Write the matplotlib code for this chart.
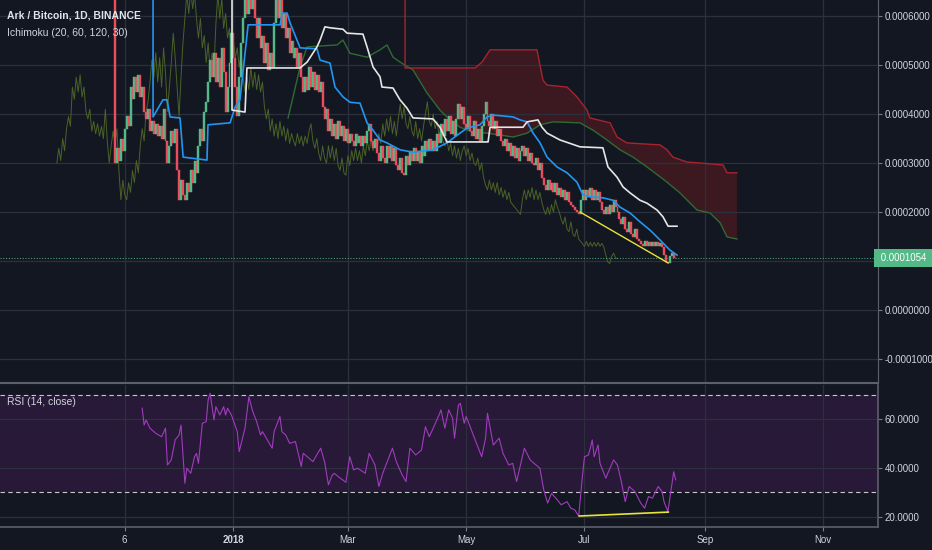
import numpy as np
import pandas as pd
import matplotlib
matplotlib.use('Agg')
import matplotlib.pyplot as plt

# prices in units of 1e-4 BTC, one candle per day starting 2017-11-01
start = pd.Timestamp('2017-11-01')
first_open = 6.9
closes = [
    3.0, 3.3, 3.05, 3.5, 3.25, 3.7, 3.95, 3.75, 4.55, 4.3,
    4.75, 4.45, 4.8, 4.35, 4.55, 4.05, 3.9, 4.1, 3.65, 3.85,
    3.6, 3.8, 3.55, 3.75, 3.5, 4.1, 3.45, 3.0, 3.35, 3.65,
    3.4, 3.7, 2.85, 2.25, 2.65, 2.35, 2.25, 2.6, 2.4, 2.85,
    2.6, 3.05, 2.8, 3.35, 3.7, 3.45, 4.05, 4.25, 4.65, 5.1,
    4.75, 5.25, 4.65, 5.15, 4.55, 5.35, 4.85, 4.05, 4.55, 5.05,
    5.65, 5.15, 4.55, 3.95, 4.75, 5.45, 5.95, 6.45, 6.05, 6.55,
    6.15, 6.45, 5.95, 5.55, 5.95, 5.35, 5.6, 5.05, 5.45, 4.9,
    5.25, 4.95, 5.85, 6.45, 5.95, 6.35, 5.75, 6.05, 5.55, 5.75,
    5.25, 5.5, 5.15, 5.35, 4.95, 5.25, 4.75, 4.45, 4.75, 4.5,
    4.95, 4.55, 4.85, 4.5, 4.8, 4.45, 4.65, 4.15, 3.9, 4.1,
    3.65, 3.9, 3.55, 3.8, 3.5, 3.85, 3.55, 3.75, 3.45, 3.7,
    3.4, 3.6, 3.45, 3.35, 3.6, 3.4, 3.55, 3.35, 3.55, 3.4,
    3.65, 3.8, 3.45, 3.3, 3.5, 3.2, 3.05, 3.35, 3.1, 3.0,
    3.35, 3.1, 3.35, 3.05, 3.3, 2.95, 2.85, 3.1, 2.8, 2.75,
    3.15, 2.95, 3.25, 3.05, 3.3, 3.05, 3.25, 3.0, 3.35, 3.15,
    3.45, 3.25, 3.5, 3.25, 3.45, 3.25, 3.6, 3.4, 3.8, 3.55,
    3.9, 3.65, 3.95, 3.6, 3.85, 3.55, 3.9, 4.2, 3.9, 4.15,
    3.8, 3.7, 3.95, 3.65, 3.55, 3.85, 3.5, 3.7, 3.45, 3.75,
    4.0, 4.25, 3.85, 3.75, 4.0, 3.7, 3.85, 3.55, 3.7, 3.45,
    3.35, 3.5, 3.25, 3.4, 3.15, 3.35, 3.1, 3.3, 3.05, 3.25,
    3.35, 3.15, 3.3, 3.05, 3.2, 3.0, 2.95, 3.1, 2.85, 3.0,
    2.7, 2.55, 2.45, 2.65, 2.45, 2.6, 2.4, 2.6, 2.35, 2.5,
    2.3, 2.45, 2.25, 2.4, 2.2, 2.15, 2.1, 2.05, 2.0, 1.95,
    2.25, 2.45, 2.25, 2.45, 2.3, 2.5, 2.25, 2.45, 2.25, 2.4,
    2.2, 2.05, 1.95, 2.1, 1.95, 2.15, 2.0, 2.25, 2.1, 2.0,
    1.85, 1.75, 1.9, 1.65, 1.6, 1.8, 1.55, 1.5, 1.65, 1.45,
    1.4, 1.35, 1.3, 1.4, 1.3, 1.38, 1.3, 1.38, 1.3, 1.38,
    1.3, 1.36, 1.28, 1.12, 0.98, 0.95, 1.1, 1.16, 1.06, 1.054,
]
last_price = 1.054
lag_shift = 30

# Ichimoku lines as (day, price) vertices
conv_days = [19.6, 19.6, 24.7, 26.8, 28.4, 33.5, 35.1, 47.4, 47.9, 59.3, 61.9, 64.4, 68.6, 85.1, 86.1,
             88.7, 90.2, 95.4, 104.1, 105.7, 110.8, 113.4, 117.5, 121.1, 126.3, 129.9, 133.0, 136.6,
             140.2, 146.9, 153.6, 163.9, 171.1, 177.8, 181.4, 188.1, 191.8, 194.8, 205.2, 208.8, 212.4,
             215.5, 219.1, 222.7, 227.8, 233.0, 238.1, 241.2, 244.8, 251.5, 256.7, 260.3, 265.5, 270.6,
             275.8, 280.9, 286.1, 289.7]
conv_vals = [8.0, 3.94, 4.29, 4.29, 3.94, 3.92, 3.12, 3.06, 3.78, 3.82, 4.14, 4.29, 5.82, 5.82, 6.06,
             6.06, 5.86, 5.35, 5.33, 5.10, 5.04, 4.55, 4.35, 4.24, 4.22, 3.82, 3.67, 3.47,
             3.41, 3.27, 3.22, 3.27, 3.41, 3.61, 3.71, 3.78, 3.94, 3.98, 3.94, 3.88, 3.84,
             3.61, 3.41, 3.12, 2.92, 2.80, 2.61, 2.35, 2.31, 2.29, 2.24, 2.10, 1.98, 1.80,
             1.63, 1.43, 1.22, 1.12]

base_days = [60.3, 60.3, 67.0, 68.0, 95.4, 99.0, 104.1, 105.7, 108.2, 110.8, 117.5, 119.6, 127.8, 129.9,
             133.0, 136.6, 137.6, 143.3, 146.9, 150.5, 153.6, 163.9, 167.5, 171.1, 192.3, 193.3, 210.3,
             212.4, 218.0, 220.1, 222.7, 229.4, 239.7, 251.5, 254.1, 258.8, 261.9, 265.5, 270.6, 274.2,
             279.4, 282.5, 285.1, 289.7]
base_vals = [8.0, 4.08, 4.04, 4.94, 4.94, 5.06, 5.37, 5.51, 5.78, 5.76, 5.73, 5.65, 5.63, 5.37,
             4.96, 4.76, 4.55, 4.53, 4.29, 4.12, 3.92, 3.90, 3.73, 3.43, 3.43, 3.73, 3.73,
             3.84, 3.88, 3.73, 3.61, 3.47, 3.33, 3.31, 2.92, 2.71, 2.51, 2.39, 2.24, 2.18,
             2.04, 1.90, 1.71, 1.71]

span_a_days = [89.2, 95.4, 99.0, 114.4, 117.5, 121.1, 129.9, 136.6, 140.2, 143.3, 146.9, 153.6, 160.8,
               167.5, 171.1, 177.8, 184.5, 191.8, 198.5, 205.2, 212.4, 219.1, 225.8, 239.7, 246.4,
               253.6, 260.3, 267.0, 274.2, 284.5, 291.2, 300.0, 306.7, 311.9, 315.5, 320.6]
span_a_vals = [3.92, 4.96, 5.37, 5.41, 5.51, 5.24, 5.16, 5.31, 5.41, 5.16, 5.06, 4.90, 4.43,
               4.08, 3.94, 3.73, 3.63, 3.61, 3.57, 3.53, 3.61, 3.78, 3.84, 3.82, 3.67,
               3.47, 3.27, 3.12, 2.92, 2.61, 2.39, 2.04, 1.98, 1.78, 1.49, 1.45]

span_b_days = [149.5, 149.5, 185.6, 189.2, 193.3, 217.5, 220.6, 222.7, 233.0, 238.1, 243.3, 244.8, 255.2,
               258.8, 263.9, 280.9, 284.5, 287.6, 294.8, 301.5, 313.4, 315.5, 320.6]
span_b_vals = [8.0, 4.94, 4.94, 5.06, 5.31, 5.31, 4.69, 4.59, 4.55, 4.35, 4.08, 3.92, 3.82,
               3.53, 3.41, 3.37, 3.27, 3.12, 3.02, 3.00, 2.96, 2.80, 2.80]

trend_days = [239.7, 285.1]
trend_vals = [2.0, 0.96]

# RSI (14, close)
rsi_days = [14, 15, 16, 18, 21, 24, 26, 27, 29, 31, 33, 34, 36, 37, 39, 41, 42, 43, 45, 47,
            48, 49, 51, 52, 54, 56, 57, 58, 60, 63, 64, 67, 69, 71, 73, 75, 76, 78, 81, 82,
            85, 86, 88, 90, 93, 94, 96, 97, 100, 102, 106, 108, 110, 112, 113, 115, 119, 121, 123, 125,
            129, 131, 134, 136, 138, 140, 143, 145, 148, 150, 152, 155, 158, 160, 162, 164, 167, 168, 170, 172,
            174, 175, 177, 178, 180, 181, 184, 186, 189, 191, 192, 195, 198, 200, 203, 205, 207, 210, 211, 214,
            216, 219, 221, 223, 225, 228, 230, 233, 235, 237, 239, 241, 242, 244, 245, 246, 247, 249, 250, 253,
            254, 257, 259, 261, 263, 265, 268, 271, 273, 275, 277, 280, 282, 283, 285, 288, 289]
rsi_vals = [64.4, 57.5, 59.6, 56.2, 54.1, 52.7, 56.2, 41.1, 43.2, 51.4,
            53.4, 57.5, 33.6, 39.8, 37.7, 44.5, 45.9, 41.8, 58.2, 58.9,
            67.8, 70.5, 59.6, 65.0, 61.6, 65.0, 61.6, 64.4, 61.6, 54.8,
            46.6, 56.2, 69.1, 63.0, 58.9, 53.4, 54.8, 52.1, 48.0, 54.8,
            61.0, 54.8, 53.4, 50.0, 50.7, 47.3, 40.5, 45.9, 43.9, 42.5,
            48.0, 42.5, 33.0, 37.0, 37.7, 36.4, 34.0, 44.5, 39.1, 39.8,
            37.7, 45.9, 41.1, 32.3, 37.7, 41.8, 48.0, 42.5, 37.0, 34.3,
            48.0, 45.2, 47.3, 56.8, 52.7, 56.2, 61.6, 63.7, 56.2, 63.7,
            60.3, 52.1, 65.7, 66.4, 58.2, 61.0, 54.8, 50.7, 44.5, 52.1,
            62.3, 49.3, 52.1, 45.9, 41.1, 41.8, 34.3, 44.5, 48.0, 43.2,
            41.8, 39.8, 30.9, 25.5, 29.5, 26.8, 24.8, 26.1, 23.4, 22.7,
            20.2, 37.0, 44.5, 45.2, 48.0, 51.4, 44.5, 49.3, 41.8, 35.7,
            37.7, 43.2, 41.1, 34.3, 26.1, 32.3, 30.2, 25.5, 23.4, 28.2,
            27.5, 32.3, 30.2, 26.1, 22.0, 38.4, 35.0]
rsi_trend_days = [239.3, 285.2]
rsi_trend_vals = [20.2, 21.8]

date_ticks = ['2017-11-06', '2018-01-01', '2018-03-01', '2018-05-01', '2018-07-01', '2018-09-01', '2018-11-01']
date_labels = ['6', '2018', 'Mar', 'May', 'Jul', 'Sep', 'Nov']
price_ticks = [-1, 0, 1, 2, 3, 4, 5, 6]
rsi_ticks = [20, 40, 60]

# colours
bg = '#131722'
grid_c = '#2c303c'
txt_c = '#d1d4dc'
up_c = '#53b987'
down_c = '#eb4d5c'

plt.rcParams['font.family'] = ['Liberation Sans', 'DejaVu Sans']

fig = plt.figure(figsize=(9.32, 5.5), dpi=100, facecolor=bg)
ax = fig.add_axes([0, 1 - 383 / 550, 878 / 932, 383 / 550], facecolor=bg)
ax2 = fig.add_axes([0, 23 / 550, 878 / 932, 142 / 550], facecolor=bg)

days = np.arange(len(closes))
opens = [first_open] + closes[:-1]
body = np.array(closes) - np.array(opens)
cols = [up_c if b >= 0 else down_c for b in body]

# cloud between span A and span B
poly_x = span_b_days[1:] + [d for d in span_a_days[::-1] if d >= 149.5]
poly_y = span_b_vals[1:] + [v for d, v in zip(span_a_days[::-1], span_a_vals[::-1]) if d >= 149.5]
ax.fill(poly_x, poly_y, color='#b71c1c', alpha=0.25, lw=0, zorder=1)
ax.plot(span_a_days, span_a_vals, color='#2e6b34', lw=1, zorder=2)
ax.plot(span_b_days, span_b_vals, color='#a8232e', lw=1, zorder=2)

# lagging span
ax.plot(days - lag_shift, closes, color='#4a6226', lw=0.7, zorder=2)

ax.bar(days, body, bottom=opens, width=1.0, color=cols, edgecolor=cols, lw=0.3, zorder=3)

ax.plot(conv_days, conv_vals, color='#2196f3', lw=1.2, zorder=4)
ax.plot(base_days, base_vals, color='#e6e6e6', lw=1.2, zorder=4)
ax.plot(trend_days, trend_vals, color='#e8e43a', lw=1, zorder=5)

ax.axhline(last_price, color=up_c, lw=0.8, ls=(0, (1, 1.5)), alpha=0.8, zorder=2)

x0 = -59.3
x1 = 393.3
tick_days = [(pd.Timestamp(t) - start).days for t in date_ticks]

ax.set_xlim(x0, x1)
ax.set_ylim(-1.49, 6.327)
ax.set_xticks(tick_days)
ax.set_xticklabels([])
ax.set_yticks(price_ticks)
# the 0.0001000 label sits under the last-price tag
ax.set_yticklabels(['' if v == 1 else f'{v * 1e-4:.7f}' for v in price_ticks])
ax.yaxis.tick_right()
ax.grid(True, color=grid_c, lw=0.9)
ax.tick_params(axis='x', length=0)
ax.tick_params(axis='y', colors='#787b86', labelcolor=txt_c, labelsize=7, length=3, pad=2)
for s in ['top', 'left']:
    ax.spines[s].set_visible(False)
ax.spines['right'].set_color('#5d606b')
ax.spines['bottom'].set_color('#5d606b')
ax.spines['bottom'].set_linewidth(1.5)

ax.text(1.0, last_price, f' {last_price * 1e-4:.7f} ', transform=ax.get_yaxis_transform(),
        ha='left', va='center', fontsize=7, color='white', clip_on=False, zorder=10,
        bbox=dict(boxstyle='square,pad=0.4', fc=up_c, ec='none'))

ax.text(7 / 878, 1 - 16 / 383, 'Ark / Bitcoin, 1D, BINANCE', transform=ax.transAxes,
        ha='left', va='center', fontsize=7.5, fontweight='bold', color='#e0e3eb')
ax.text(7 / 878, 1 - 33 / 383, 'Ichimoku (20, 60, 120, 30)', transform=ax.transAxes,
        ha='left', va='center', fontsize=7.5, color='#d1d4dc')

# RSI panel
ax2.axhspan(30, 70, color='#9c27b0', alpha=0.15, lw=0)
ax2.axhline(70, color='#c8c8c8', lw=0.8, ls=(0, (4, 3)))
ax2.axhline(30, color='#c8c8c8', lw=0.8, ls=(0, (4, 3)))
ax2.plot(rsi_days, rsi_vals, color='#a23bbf', lw=0.8)
ax2.plot(rsi_trend_days, rsi_trend_vals, color='#e8e43a', lw=1.2)

ax2.set_xlim(x0, x1)
ax2.set_ylim(15.7, 73.9)
ax2.set_yticks(rsi_ticks)
ax2.set_yticklabels([f'{v:.4f}' for v in rsi_ticks])
ax2.yaxis.tick_right()
ax2.set_xticks(tick_days)
ax2.set_xticklabels(date_labels)
for lab in ax2.get_xticklabels():
    if lab.get_text() == '2018':
        lab.set_fontweight('bold')
ax2.grid(True, color=grid_c, lw=0.9)
ax2.tick_params(axis='y', colors='#787b86', labelcolor=txt_c, labelsize=7, length=3, pad=2)
ax2.tick_params(axis='x', colors='#787b86', labelcolor=txt_c, labelsize=7, length=3, pad=3)
ax2.spines['left'].set_visible(False)
ax2.spines['top'].set_visible(False)
for s in ['right', 'bottom']:
    ax2.spines[s].set_color('#5d606b')
    ax2.spines[s].set_linewidth(1.2)

ax2.text(7 / 878, 1 - 17 / 142, 'RSI (14, close)', transform=ax2.transAxes,
         ha='left', va='center', fontsize=7.5, color='#d1d4dc')

fig.savefig('out.png', dpi=100, facecolor=bg)
